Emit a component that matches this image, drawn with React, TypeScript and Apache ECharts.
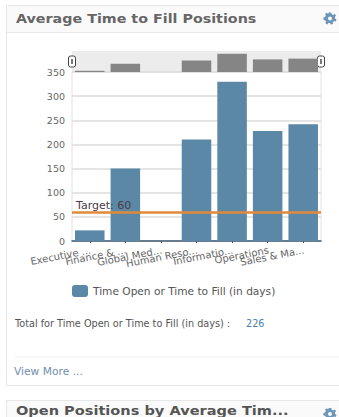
import React, { useEffect, useRef } from "react";
import * as echarts from "echarts";

const categories = ["Executive ...", "Finance & ...", "Global Med...", "Human Reso...", "Informatio...", "Operations", "Sales & Ma..."];
const fillDays = [22, 150, 0, 210, 330, 228, 242];
const yTicks = { min: 0, max: 350, interval: 50 };
const targetValue = 60;
const seriesName = "Time Open or Time to Fill (in days)";
const cardTitle = "Average Time to Fill Positions";
const nextCardTitle = "Open Positions by Average Tim...";
const totalLabel = "Total for Time Open or Time to Fill (in days) :";
const totalValue = "226";
const moreLink = "View More ...";

// Settings cog, centred on the origin, with a hole cut in the middle.
const GEAR = "M-1.3 -6H1.3L1.7 -4.2L3.1 -3.6L4.7 -4.6L6.1 -2.9L4.9 -1.4L5.1 0L6.6 1L5.6 3L3.9 2.6L2.8 3.8L3 5.6L0.8 6.1L0 4.5L-1.6 4.4L-2.6 5.9L-4.6 4.8L-4 3L-5 1.8L-6.6 1.5V-1L-5 -1.5L-4.2 -3L-5 -4.6L-3.2 -5.7L-1.9 -4.4ZM0 -2A2 2 0 0 0 0 2A2 2 0 0 0 0 -2Z";
echarts.graphic.registerShape("gear", echarts.graphic.extendPath(GEAR, {}));

const FONT = "'DejaVu Sans', sans-serif";

function App() {
  const ref = useRef<HTMLDivElement>(null);
  useEffect(() => {
    document.body.style.margin = "0";
    const chart = echarts.init(ref.current!, null, { renderer: "svg" });
    // Range grips at either end of the overview strip.
    const handle = (x: number) => ({
      type: "group", x, y: 56, z: 20, children: [
        { type: "rect", shape: { x: -3.5, y: 0, width: 7, height: 11, r: 2 }, style: { fill: "#fff", stroke: "#444", lineWidth: 1 } },
        { type: "rect", shape: { x: -1, y: 3, width: 2, height: 5 }, style: { fill: "#777" } },
      ],
    });
    chart.setOption({
      animation: false,
      backgroundColor: "#fff",
      textStyle: { fontFamily: FONT },
      legend: {
        data: [seriesName], left: 72, top: 285, padding: 0, itemWidth: 16, itemHeight: 12, itemGap: 5,
        textStyle: { fontFamily: FONT, fontSize: 10.6, color: "#555" },
      },
      grid: [
        { left: 72, right: 18, top: 72, height: 169, show: true, borderColor: "#e2e2e2", borderWidth: 1, backgroundColor: "#fff" },
        { left: 72, right: 18, top: 51, height: 21, show: true, borderWidth: 0, backgroundColor: "#ececec" },
      ],
      xAxis: [
        {
          type: "category", data: categories, gridIndex: 0,
          axisLine: { lineStyle: { color: "#3f5b70", width: 1.5 } },
          axisTick: { show: true, alignWithLabel: true, lineStyle: { color: "#555" }, length: 2 },
          axisLabel: { interval: 0, rotate: 11, fontSize: 10, color: "#666", fontFamily: FONT, margin: 4, align: "right", verticalAlign: "top" },
        },
        { type: "category", data: categories, gridIndex: 1, show: false },
      ],
      yAxis: [
        {
          type: "value", gridIndex: 0, ...yTicks,
          axisLine: { show: false }, axisTick: { show: false },
          axisLabel: { fontSize: 9.5, color: "#666", fontFamily: FONT, margin: 7 },
          splitLine: { lineStyle: { color: "#dcdcdc", width: 1.5 } },
        },
        { type: "value", gridIndex: 1, min: 0, max: 380, show: false, splitLine: { show: false } },
      ],
      series: [
        {
          name: seriesName, type: "bar", data: fillDays, xAxisIndex: 0, yAxisIndex: 0,
          barCategoryGap: "17%", itemStyle: { color: "#5b88a6" },
          markLine: {
            silent: true, symbol: "none", data: [{ yAxis: targetValue }],
            lineStyle: { color: "#e08a3c", width: 2.5, type: "solid" },
            label: { position: "insideStartTop", formatter: `Target: ${targetValue}`, fontSize: 11, color: "#4a3a44", fontFamily: FONT, distance: 1, padding: [0, 0, 0, 3] },
          },
        },
        {
          name: "overview", type: "bar", data: fillDays, xAxisIndex: 1, yAxisIndex: 1,
          barCategoryGap: "17%", itemStyle: { color: "#858585" },
        },
      ],
      graphic: [
        { type: "rect", z: -10, shape: { x: 6.5, y: 5.5, width: 340, height: 380 }, style: { fill: "none", stroke: "#e6e6e6", lineWidth: 1 } },
        { type: "rect", z: -9, shape: { x: 7, y: 6, width: 340, height: 26 }, style: { fill: "#fafafa" } },
        { type: "line", shape: { x1: 7, y1: 32.5, x2: 339, y2: 32.5 }, style: { stroke: "#e8e8e8", lineWidth: 1 } },
        { type: "text", x: 16, y: 18, scaleX: 1.1, style: { text: cardTitle, font: `bold 13px ${FONT}`, fill: "#666", verticalAlign: "middle" } },
        { type: "gear", x: 330, y: 18.5, style: { fill: "#6f96b8" } },
        handle(72), handle(321),
        { type: "text", x: 15, y: 323, style: { text: totalLabel, font: `9.7px ${FONT}`, fill: "#555", verticalAlign: "middle" } },
        { type: "text", x: 246, y: 323, style: { text: totalValue, font: `9.7px ${FONT}`, fill: "#4a7fb0", verticalAlign: "middle" } },
        { type: "line", shape: { x1: 15, y1: 357, x2: 339, y2: 357 }, style: { stroke: "#eeeeee", lineWidth: 1 } },
        { type: "text", x: 14, y: 371, style: { text: moreLink, font: `10.7px ${FONT}`, fill: "#6f8fb0", verticalAlign: "middle" } },
        { type: "rect", z: -10, shape: { x: 6.5, y: 400.5, width: 340, height: 30 }, style: { fill: "#fafafa", stroke: "#e6e6e6", lineWidth: 1 } },
        { type: "text", x: 16, y: 410.5, scaleX: 1.12, style: { text: nextCardTitle, font: `bold 13px ${FONT}`, fill: "#555", verticalAlign: "middle" } },
        { type: "gear", x: 330, y: 414, style: { fill: "#6f96b8" } },
      ],
    });
    return () => chart.dispose();
  }, []);
  return <div ref={ref} style={{ position: "absolute", left: 0, top: 0, width: 339, height: 417 }} />;
}

export default App;
